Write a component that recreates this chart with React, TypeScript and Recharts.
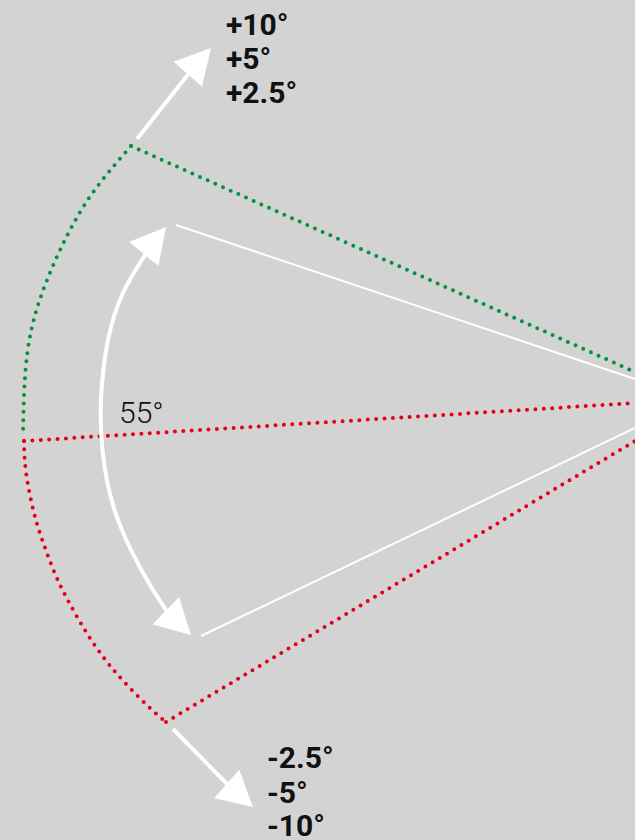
import { ComposedChart, Line, Scatter, XAxis, YAxis } from 'recharts'

// everything is in picture pixels: x axis 0..635, y axis 0..840 (top down)
const W = 635
const H = 840

// dotted range outline
const greenArc = [
  { x: 131, y: 146 }, { x: 94, y: 191 }, { x: 68, y: 234 }, { x: 47, y: 280 },
  { x: 32, y: 327 }, { x: 25, y: 377 }, { x: 23, y: 435 },
]
const greenEdge = [{ x: 131, y: 146 }, { x: 635, y: 372 }]
const redArc = [
  { x: 24, y: 441 }, { x: 26, y: 472 }, { x: 34, y: 513 }, { x: 44, y: 545 },
  { x: 56, y: 576 }, { x: 71, y: 606 }, { x: 88, y: 635 }, { x: 107, y: 662 },
  { x: 129, y: 687 }, { x: 153, y: 711 }, { x: 166, y: 722 },
]
const redCenter = [{ x: 24, y: 441 }, { x: 635, y: 403 }]
const redEdge = [{ x: 166, y: 722 }, { x: 635, y: 441 }]

// thin white field-of-view lines
const fovUpper = [{ x: 176, y: 225 }, { x: 635, y: 379 }]
const fovLower = [{ x: 201, y: 636 }, { x: 635, y: 428 }]

// arrow shafts
const fovArc = [
  { x: 145, y: 255 }, { x: 123, y: 293 }, { x: 108, y: 340 }, { x: 101, y: 400 },
  { x: 103, y: 455 }, { x: 113, y: 505 }, { x: 130, y: 548 }, { x: 150, y: 585 },
  { x: 168, y: 613 },
]
const upShaft = [{ x: 137, y: 139 }, { x: 190, y: 72 }]
const downShaft = [{ x: 173, y: 729 }, { x: 230, y: 787 }]

// arrow tips, with a point on the shaft behind each tip
const arrowTips = [
  { x: 211, y: 48, fromX: 188, fromY: 74 },
  { x: 166, y: 227, fromX: 143, fromY: 255 },
  { x: 191, y: 635, fromX: 165, fromY: 610 },
  { x: 253, y: 807, fromX: 229, fromY: 786 },
]

const tiltLabels = [
  { x: 226, y: 35, text: '+10°' },
  { x: 226, y: 69, text: '+5°' },
  { x: 226, y: 103, text: '+2.5°' },
  { x: 267, y: 768, text: '-2.5°' },
  { x: 267, y: 803, text: '-5°' },
  { x: 267, y: 836, text: '-10°' },
]
const angleLabel = [{ x: 119, y: 423, text: '55°' }]

const GREEN = '#00943f'
const RED = '#e3001b'
const WHITE = '#ffffff'
const FONT = 'Roboto, "Liberation Sans", Arial, sans-serif'

function ArrowHead(props: any) {
  const { cx, cy, payload } = props
  const a = Math.atan2(payload.y - payload.fromY, payload.x - payload.fromX)
  const len = 35
  const half = 19
  const bx = cx - len * Math.cos(a)
  const by = cy - len * Math.sin(a)
  const nx = -Math.sin(a) * half
  const ny = Math.cos(a) * half
  return (
    <polygon
      points={`${cx},${cy} ${bx + nx},${by + ny} ${bx - nx},${by - ny}`}
      fill={WHITE}
    />
  )
}

function BoldText(props: any) {
  const { cx, cy, payload } = props
  return (
    <text x={cx} y={cy} fontFamily={FONT} fontSize={30} fontWeight={700} fill="#111">
      {payload.text}
    </text>
  )
}

function LightText(props: any) {
  const { cx, cy, payload } = props
  return (
    <text x={cx} y={cy} fontFamily={FONT} fontSize={30} fontWeight={300} fill="#111">
      {payload.text}
    </text>
  )
}

const dotted = {
  strokeWidth: 4,
  strokeDasharray: '0 8.4',
  strokeLinecap: 'round' as const,
}

export default function App() {
  return (
    <div style={{ position: 'absolute', left: 0, top: 0, width: W, height: H, background: '#d3d3d3' }}>
      <ComposedChart width={W} height={H} margin={{ top: 0, right: 0, bottom: 0, left: 0 }}>
        <XAxis type="number" dataKey="x" domain={[0, W]} allowDataOverflow hide />
        <YAxis type="number" dataKey="y" domain={[0, H]} allowDataOverflow reversed hide />

        <Line data={greenArc} dataKey="y" type="natural" stroke={GREEN} {...dotted} dot={false} activeDot={false} isAnimationActive={false} />
        <Line data={greenEdge} dataKey="y" type="linear" stroke={GREEN} {...dotted} dot={false} activeDot={false} isAnimationActive={false} />
        <Line data={redArc} dataKey="y" type="natural" stroke={RED} {...dotted} dot={false} activeDot={false} isAnimationActive={false} />
        <Line data={redCenter} dataKey="y" type="linear" stroke={RED} {...dotted} dot={false} activeDot={false} isAnimationActive={false} />
        <Line data={redEdge} dataKey="y" type="linear" stroke={RED} {...dotted} dot={false} activeDot={false} isAnimationActive={false} />

        <Line data={fovUpper} dataKey="y" type="linear" stroke={WHITE} strokeWidth={2} dot={false} activeDot={false} isAnimationActive={false} />
        <Line data={fovLower} dataKey="y" type="linear" stroke={WHITE} strokeWidth={2} dot={false} activeDot={false} isAnimationActive={false} />

        <Line data={fovArc} dataKey="y" type="natural" stroke={WHITE} strokeWidth={4} dot={false} activeDot={false} isAnimationActive={false} />
        <Line data={upShaft} dataKey="y" type="linear" stroke={WHITE} strokeWidth={4} dot={false} activeDot={false} isAnimationActive={false} />
        <Line data={downShaft} dataKey="y" type="linear" stroke={WHITE} strokeWidth={4} dot={false} activeDot={false} isAnimationActive={false} />

        <Scatter data={arrowTips} dataKey="y" shape={ArrowHead} isAnimationActive={false} />
        <Scatter data={tiltLabels} dataKey="y" shape={BoldText} isAnimationActive={false} />
        <Scatter data={angleLabel} dataKey="y" shape={LightText} isAnimationActive={false} />
      </ComposedChart>
    </div>
  )
}
